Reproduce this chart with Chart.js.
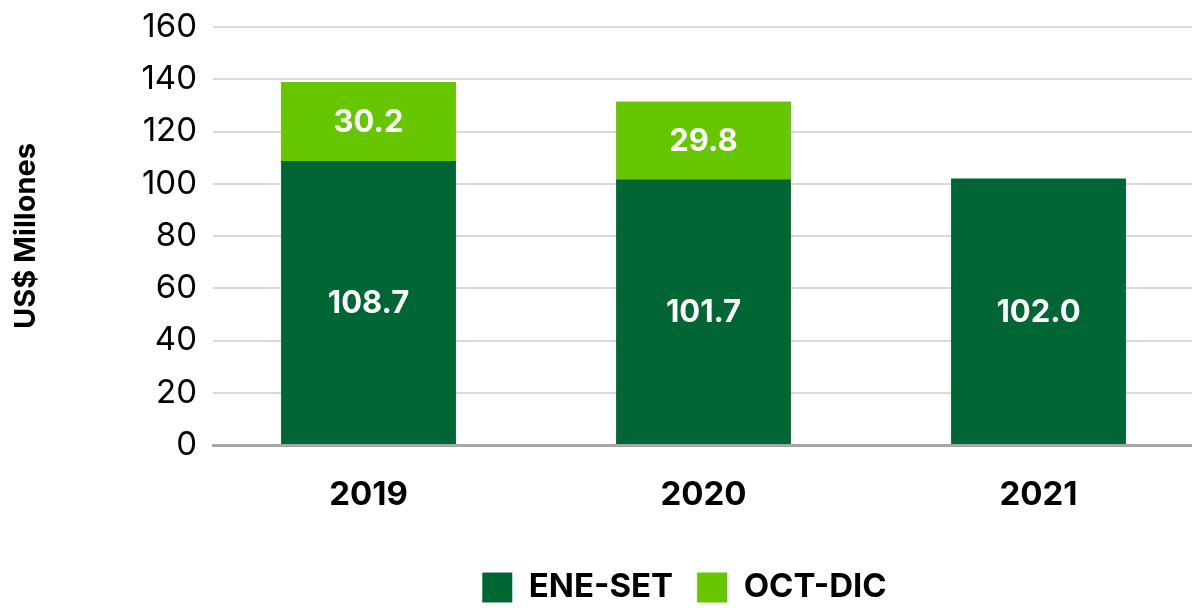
<!DOCTYPE html>
<html>
<head>
<meta charset="utf-8">
<script src="https://cdn.jsdelivr.net/npm/chart.js@4/dist/chart.umd.min.js"></script>
<style>
  html, body { margin: 0; padding: 0; background: #fff; }
  #wrap { width: 1192px; height: 608px; }
</style>
</head>
<body>
<div id="wrap"><canvas id="ventasChart"></canvas></div>
<script>
// data
const years = ['2019', '2020', '2021'];
const eneSet = [108.7, 101.7, 102.0];
const octDic = [30.2, 29.8, null];
const yTicks = [0, 20, 40, 60, 80, 100, 120, 140, 160];

const FONT = 'Inter, Roboto, sans-serif';

// labels inside the bars
const barLabels = {
    id: 'barLabels',
    afterDatasetsDraw(chart) {
        const ctx = chart.ctx;
        ctx.save();
        ctx.fillStyle = '#ffffff';
        ctx.font = 'bold 31px ' + FONT;
        ctx.textAlign = 'center';
        ctx.textBaseline = 'middle';
        chart.data.datasets.forEach((ds, di) => {
            chart.getDatasetMeta(di).data.forEach((bar, i) => {
                const v = ds.data[i].y;
                if (v == null) return;
                ctx.fillText(v.toFixed(1), bar.x, (bar.y + bar.base) / 2 + 1);
            });
        });
        ctx.restore();
    }
};

// the legend sits a bit right of the canvas centre
const shiftLegend = {
    id: 'shiftLegend',
    afterLayout(chart) {
        chart.legend.left += 84;
        chart.legend.right += 84;
    }
};

const toPoints = (arr) => arr.map((v, i) => ({x: i, y: v}));

const config = {
    type: 'bar',
    data: {
        datasets: [{
            label: 'ENE-SET',
            data: toPoints(eneSet),
            backgroundColor: '#006633',
            categoryPercentage: 1,
            barPercentage: 0.522
        }, {
            label: 'OCT-DIC',
            data: toPoints(octDic),
            backgroundColor: '#66c600',
            categoryPercentage: 1,
            barPercentage: 0.522
        }]
    },
    options: {
        responsive: true,
        maintainAspectRatio: false,
        animation: false,
        layout: {
            padding: {top: 27, right: 0, bottom: -6, left: 9}
        },
        plugins: {
            tooltip: {enabled: false},
            legend: {
                position: 'bottom',
                labels: {
                    boxWidth: 30,
                    boxHeight: 30,
                    padding: 24,
                    color: '#000',
                    font: {family: FONT, size: 33, weight: 'bold'}
                }
            }
        },
        scales: {
            x: {
                type: 'linear',
                stacked: true,
                offset: false,
                min: -0.4642,
                max: 2.4582,
                afterBuildTicks: (scale) => {
                    scale.ticks = years.map((_, i) => ({value: i}));
                },
                afterFit: (scale) => { scale.height = 102; },
                ticks: {
                    color: '#000',
                    padding: 22,
                    font: {family: FONT, size: 33, weight: 'bold'},
                    callback: (v) => years[v]
                },
                grid: {display: false},
                border: {display: true, color: '#a6a6a6', width: 3}
            },
            y: {
                stacked: true,
                min: 0,
                max: 160,
                afterBuildTicks: (scale) => {
                    scale.ticks = yTicks.map(v => ({value: v}));
                },
                afterFit: (scale) => {
                    scale.width = 204;
                    scale.paddingTop = 0;
                    scale.paddingBottom = 0;
                },
                ticks: {
                    color: '#000',
                    padding: 16,
                    font: {family: FONT, size: 33}
                },
                grid: {
                    color: (c) => c.tick && c.tick.value === 0 ? 'rgba(0,0,0,0)' : '#d9d9d9',
                    lineWidth: 2,
                    drawTicks: false
                },
                border: {display: false},
                title: {
                    display: true,
                    text: 'US$ Millones',
                    color: '#000',
                    padding: 0,
                    font: {family: FONT, size: 29, weight: 'bold'}
                }
            }
        }
    },
    plugins: [barLabels, shiftLegend]
};

const ventasChart = new Chart(document.getElementById('ventasChart'), config);
</script>
</body>
</html>
